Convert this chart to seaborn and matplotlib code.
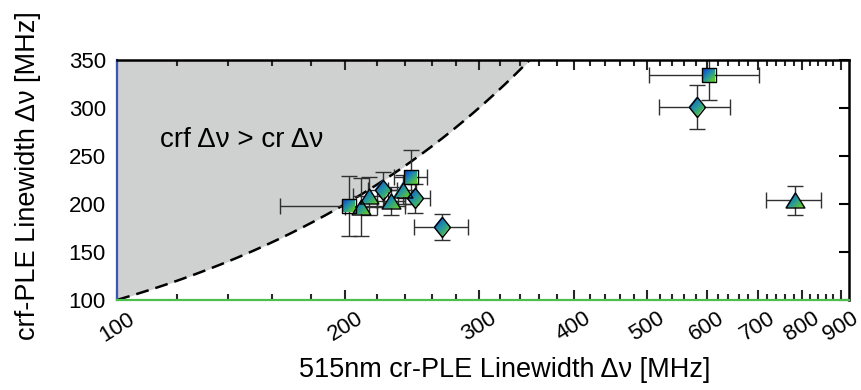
import numpy as np
import seaborn as sns
import matplotlib
matplotlib.use("Agg")
import matplotlib.pyplot as plt
import matplotlib.transforms as mtransforms
from matplotlib.path import Path
from matplotlib.image import AxesImage
from matplotlib.colors import LinearSegmentedColormap
from matplotlib.ticker import NullFormatter

# ── data ─────────────────────────────────────────────────────────────────────
x_vals = [202, 210, 215, 224, 230, 238, 244, 247, 268, 581, 603, 783]
y_vals = [198, 197, 208, 215, 203, 215, 228, 206, 176, 301, 334, 204]
x_err = [38, 10, 10, 10, 10, 10, 12, 12, 22, 63, 100, 65]
y_err = [31, 30, 20, 18, 15, 15, 28, 15, 14, 23, 26, 15]
shapes = ["square", "triangle", "triangle", "diamond", "triangle", "triangle",
          "square", "diamond", "diamond", "diamond", "square", "triangle"]

x_major = [100, 200, 300, 400, 500, 600, 700, 800, 900]
x_minor = [v for v in range(120, 900, 20) if v % 100]
y_ticks = [100, 150, 200, 250, 300, 350]
boundary = np.geomspace(100, 350, 200)   # crf = cr line

# ── style ────────────────────────────────────────────────────────────────────
sns.set_theme(style="ticks")
plt.rcParams["font.family"] = ["Liberation Sans", "DejaVu Sans"]
for key in ["text.color", "axes.labelcolor", "xtick.labelcolor", "ytick.labelcolor"]:
    plt.rcParams[key] = "black"

BLUE_SPINE = "#3c55b4"
GREEN_SPINE = "#4cbf4c"
cmap = LinearSegmentedColormap.from_list("bg", ["#1050cc", "#2496a0", "#5cc632"])

PATHS = {
    "square": Path([(-1, -1), (1, -1), (1, 1), (-1, 1), (-1, -1)], closed=True),
    "diamond": Path([(0, 1), (0.8, 0), (0, -1), (-0.8, 0), (0, 1)], closed=True),
    "triangle": Path([(0, 0.8), (1, -0.8), (-1, -0.8), (0, 0.8)], closed=True),
}
SIZES = {"square": 9.5, "diamond": 14.5, "triangle": 13.5}

fig = plt.figure(figsize=(8.61, 3.9), dpi=100)
ax = fig.add_axes([0.136, 0.231, 0.850, 0.615])
ax.set_xscale("log")

# ── shaded region + dashed boundary ─────────────────────────────────────────
ax.fill_between(boundary, boundary, 350, color="#cfd0d0", lw=0, zorder=0)
sns.lineplot(x=boundary, y=boundary, ax=ax, color="black", linewidth=1.8, zorder=1)
ax.lines[-1].set_dashes([5.2, 2.8])
ax.text(114, 267, "crf Δν > cr Δν", fontsize=20, va="center", ha="left", color="black")

# ── error bars ───────────────────────────────────────────────────────────────
ax.errorbar(x_vals, y_vals, xerr=x_err, yerr=y_err, fmt="none", ecolor="#303030",
            elinewidth=1, capsize=6, capthick=1, zorder=2)

# ── gradient-filled markers ──────────────────────────────────────────────────
u = np.linspace(-1, 1, 48)
gx, gy = np.meshgrid(u, u)
grad = np.clip(gx - gy, -1.4, 1.4)
for x, y, sh in zip(x_vals, y_vals, shapes):
    ms = SIZES[sh]
    T = (mtransforms.Affine2D().scale(ms / 2 / 72) + fig.dpi_scale_trans
         + mtransforms.ScaledTranslation(x, y, ax.transData))
    im = AxesImage(ax, cmap=cmap, interpolation="bilinear", origin="lower",
                   extent=(-1, 1, -1, 1))
    im.set_data(grad)
    im.set_transform(T)
    im.set_clip_path(PATHS[sh], T)
    im.set_zorder(3)
    ax.add_image(im)
    ax.plot([x], [y], marker=PATHS[sh], ms=ms, mfc="none", mec="black",
            mew=1, ls="none", zorder=4)

# ── axes ─────────────────────────────────────────────────────────────────────
ax.set_xlim(100, 923)
ax.set_ylim(100, 350)
ax.set_xticks(x_major)
ax.set_xticks(x_minor, minor=True)
ax.xaxis.set_minor_formatter(NullFormatter())
ax.set_xticklabels([str(v) for v in x_major], rotation=32, ha="center")
ax.set_yticks(y_ticks)

ax.tick_params(axis="x", which="both", direction="in", top=True, bottom=True, width=1.5)
ax.tick_params(axis="x", which="major", length=7, labelsize=16, pad=6,
               labelcolor="black")
ax.tick_params(axis="x", which="minor", length=4)
ax.tick_params(axis="y", direction="in", left=False, right=True, length=7,
               width=1.5, labelsize=16, pad=8, color="black", labelcolor="black")
for t in ax.xaxis.get_major_ticks() + ax.xaxis.get_minor_ticks():
    t.tick1line.set_color(GREEN_SPINE)
    t.tick2line.set_color("black")

ax.spines["left"].set_color(BLUE_SPINE)
ax.spines["bottom"].set_color(GREEN_SPINE)
for s in ["left", "bottom"]:
    ax.spines[s].set_linewidth(1.6)
for s in ["top", "right"]:
    ax.spines[s].set_color("black")
    ax.spines[s].set_linewidth(1.8)

ax.set_xlabel("515nm cr-PLE Linewidth Δν [MHz]", fontsize=19.5, color="black")
ax.set_ylabel("crf-PLE Linewidth Δν [MHz]", fontsize=19.5, color="black")
ax.xaxis.set_label_coords(0.529, -0.24)
ax.yaxis.set_label_coords(-0.104, 0.52)

fig.savefig("out.png", dpi=100)
